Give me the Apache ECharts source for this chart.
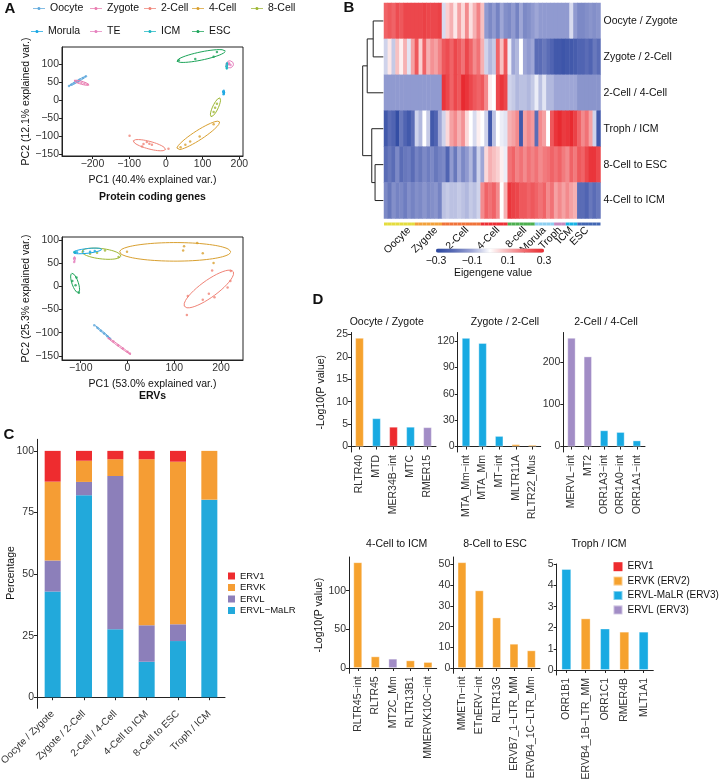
<!DOCTYPE html>
<html>
<head>
<meta charset="utf-8">
<title>ERV expression in early embryos</title>
<script src="https://cdn.jsdelivr.net/npm/echarts@6/dist/echarts.min.js"></script>
<style>
  html, body { margin: 0; padding: 0; background: #fff; }
  #chart { width: 720px; height: 780px; }
</style>
</head>
<body>
<div id="chart"></div>
<script>
// ---------------------------------------------------------------------------
// Panel A: PCA, one ellipse [cx, cy, ux, uy, vx, vy] and some points per stage
// ---------------------------------------------------------------------------
var pcaGroups = ['Oocyte', 'Zygote', '2-Cell', '4-Cell', '8-Cell', 'Morula', 'TE', 'ICM', 'ESC'];
var pcaColors = ['#5ea8dc', '#e97cb0', '#f08377', '#d9a030', '#9db733', '#17a6e3', '#e680be', '#1ab6c2', '#1ca459'];

var protEllipses = [
  [-241, 53, 24, 14, -1.2, 2],
  [-230, 49, 21, -6, 1, 4],
  [-45, -124, 44, -12, 3, 10],
  [88, -97, 58, 38, -7, 11],
  [135, -19, 12, 26, 7, -3],
  [157, 22, 1, 8, 3, 0],
  [174, 100, 10, 0, 0, 10],
  [166, 96, 1, 10, 2, 0],
  [96, 123, 66, 14, -2.5, 11]
];
var protPoints = [
  [[-264, 40], [-257, 44], [-250, 48], [-243, 52], [-235, 57], [-226, 62], [-218, 67]],
  [[-246, 53], [-238, 51], [-230, 49], [-222, 47], [-214, 45]],
  [[-99, -98], [7, -134], [-61, -121], [-52, -115], [-38, -123], [-65, -128], [-45, -120]],
  [[53, -123], [92, -100], [130, -66], [66, -114], [40, -130]],
  [[139, -9], [130, -32], [134, -20]],
  [[157, 17], [157, 25], [158, 21]],
  [[171, 100], [176, 98], [172, 103]],
  [[166, 89], [166, 101], [165, 95]],
  [[35, 111], [80, 115], [130, 121], [139, 134]]
];
var protXTicks = [-200, -100, 0, 100, 200];
var protYTicks = [-150, -100, -50, 0, 50, 100];

var ervEllipses = [
  [-54, -98, 18, -15, 0.8, 1],
  [-19, -128, 26, -19, 0.9, 1.2],
  [174, -6, 52, 38, -10.7, 14.6],
  [102, 74, 119, 0, 0, 20],
  [-56, 70, 42, -5, 1.5, 11],
  [-86, 76, 31, 3.5, -0.5, 5],
  [-114, 57, 1, 7, 2, 0],
  [-113, 73, 3, 1, 0, 2],
  [-112, 7, -7, 21, 6.5, 2]
];
var ervPoints = [
  [[-71, -84], [-64, -90], [-57, -96], [-50, -102], [-43, -108], [-37, -113]],
  [[-40, -112], [-30, -119], [-20, -127], [-10, -134], [0, -141], [5, -145]],
  [[129, -21], [161, -29], [174, -16], [186, -24], [214, -3], [220, 11], [221, 33], [181, 34], [127, -62]],
  [[-1, 74], [119, 77], [121, 86], [149, 93], [161, 71], [184, 50]],
  [[-80, 70], [-48, 77], [-19, 63], [-65, 72]],
  [[-108, 73], [-95, 75], [-80, 74], [-70, 76]],
  [[-114, 52], [-113, 60]],
  [[-113, 73]],
  [[-118, 11], [-109, 19], [-111, 2], [-104, -14]]
];
var ervXTicks = [-100, 0, 100, 200];
var ervYTicks = [-150, -100, -50, 0, 50, 100];

// ---------------------------------------------------------------------------
// Panel B: module eigengenes per sample
// ---------------------------------------------------------------------------
var moduleNames = ['Oocyte / Zygote', 'Zygote / 2-Cell', '2-Cell / 4-Cell', 'Troph / ICM', '8-Cell to ESC', '4-Cell to ICM'];
var stageNames = ['Oocyte', 'Zygote', '2-Cell', '4-Cell', '8-cell', 'Morula', 'Troph', 'ICM', 'ESC'];
var stageSizes = [8, 7, 10, 7, 7, 5, 3, 3, 6];
var stageColors = ['#e4dc3e', '#f2a13b', '#f0733a', '#ec3035', '#4caf4f', '#8dcff0', '#c58ac0', '#17b3e5', '#4267b3'];
var stageLabelCols = [6, 13, 21, 29, 36, 41, 45, 48, 52];
var eigenRows = [
  [0.2, 0.22, 0.2, 0.24, 0.22, 0.25, 0.25, 0.25,  0.25, 0.25, 0.26, 0.25, 0.25, 0.25, 0.26,
   -0.04, 0.06, 0.1, 0.03, 0.12, 0.05, 0.15, 0.04, 0.1, 0.16,  0.08, -0.12, -0.15, -0.12, -0.16, -0.1, -0.14,
   -0.15, -0.12, -0.16, -0.1, -0.15, -0.14, -0.12,  -0.1, -0.12, -0.12, -0.12, -0.12,  -0.12, -0.12, -0.12,
   -0.12, -0.04, -0.12,  -0.15, -0.15, -0.14, -0.13, -0.14, -0.13],
  [-0.05, 0.03, -0.06, 0.08, 0.02, 0.1, -0.03, 0.12,  0.22, 0.06, 0.2, 0.1, 0.14, 0.12, 0.16,
   0.22, 0.24, 0.2, 0.25, 0.22, 0.18, 0.25, 0.2, 0.15, 0.18,  0.1, -0.05, -0.08, -0.06, 0.2, 0.08, 0.22,
   -0.02, -0.1, -0.08, 0.0, -0.1, -0.12, -0.1,  -0.2, -0.2, -0.18, -0.2, -0.22,  -0.25, -0.25, -0.26,
   -0.25, -0.25, -0.24,  -0.22, -0.22, -0.2, -0.22, -0.18, -0.2],
  [-0.12, -0.12, -0.12, -0.12, -0.12, -0.12, -0.12, -0.12,  -0.12, -0.12, -0.12, -0.12, -0.12, -0.12, -0.12,
   0.28, 0.25, 0.2, 0.25, 0.22, 0.3, 0.28, 0.25, 0.22, 0.2,  0.22, 0.15, 0.02, 0.0, 0.25, 0.28, 0.25,
   -0.05, -0.06, -0.08, -0.07, -0.07, -0.08, -0.06,  -0.02, -0.07, -0.03, -0.08, -0.08,  -0.1, -0.1, -0.1,
   -0.1, -0.1, -0.1,  -0.13, -0.13, -0.13, -0.13, -0.13, -0.13],
  [-0.25, -0.2, -0.22, -0.28, -0.18, -0.22, -0.25, -0.2,  -0.05, -0.08, 0.0, -0.06, -0.25, -0.22, -0.1,
   -0.05, 0.05, 0.12, 0.15, 0.1, 0.14, 0.05, 0.0, -0.04, 0.02,  0.0, -0.05, -0.25, -0.07, 0.0, -0.02, -0.03,
   0.1, 0.12, 0.15, -0.25, 0.12, 0.15, 0.13,  -0.2, 0.15, 0.12, 0.0, 0.22,  0.28, 0.3, 0.27,
   0.28, 0.3, 0.26,  0.2, 0.15, 0.18, 0.12, -0.05, -0.25],
  [-0.2, -0.18, -0.2, -0.15, -0.2, -0.18, -0.17, -0.2,  -0.16, -0.18, -0.15, -0.17, -0.15, -0.18, -0.16,
   -0.15, -0.22, -0.12, -0.18, -0.1, -0.15, -0.12, -0.08, -0.15, -0.05,  -0.1, 0.05, 0.1, 0.08, 0.06, 0.02, -0.02,
   0.18, 0.2, 0.16, 0.18, 0.15, 0.18, 0.16,  0.18, 0.15, 0.17, 0.18, 0.2,  0.18, 0.2, 0.17,
   0.15, 0.2, 0.17,  0.22, 0.2, 0.25, 0.28, 0.28, 0.25],
  [-0.15, -0.18, -0.14, -0.16, -0.15, -0.17, -0.14, -0.16,  -0.14, -0.15, -0.13, -0.15, -0.14, -0.13, -0.16,
   -0.07, -0.06, -0.07, -0.07, -0.06, -0.07, -0.08, -0.06, -0.07, -0.05,  0.15, 0.2, 0.18, 0.2, 0.15, 0.0, 0.1,
   0.28, 0.26, 0.25, 0.22, 0.22, 0.2, 0.22,  0.2, 0.18, 0.2, 0.15, 0.18,  0.12, 0.15, 0.12,
   0.15, 0.12, 0.1,  -0.2, -0.2, -0.22, -0.18, -0.2, -0.18]
];
// dendrogram: leaves 0..5 are the rows, merge k becomes node 6 + k
var dendroMerges = [[0, 1, 0.49], [6, 2, 0.78], [4, 5, 0.40], [3, 8, 0.56], [7, 9, 1.0]];
var eigenRange = [-0.3, 0.3];
var eigenTicks = [-0.3, -0.1, 0.1, 0.3];

// ---------------------------------------------------------------------------
// Panel C: ERV family composition (%) per module
// ---------------------------------------------------------------------------
var compCats = ['Oocyte / Zygote', 'Zygote / 2-Cell', '2-Cell / 4-Cell', '4-Cell to ICM', '8-Cell to ESC', 'Troph / ICM'];
var compMaLR = [42.9, 82.0, 27.6, 14.4, 22.8, 80.2];
var compERVL = [12.6, 5.4, 62.2, 14.8, 6.8, 0];
var compERVK = [32.0, 8.6, 6.8, 67.4, 66.0, 19.8];
var compERV1 = [12.5, 4.0, 3.4, 3.4, 4.4, 0];
var compTicks = [0, 25, 50, 75, 100];

// ---------------------------------------------------------------------------
// Panel D: top enriched ERVs per module
// ---------------------------------------------------------------------------
var familyNames = ['ERV1', 'ERVK (ERV2)', 'ERVL-MaLR (ERV3)', 'ERVL (ERV3)'];
var enrichTitles = ['Oocyte / Zygote', 'Zygote / 2-Cell', '2-Cell / 4-Cell', '4-Cell to ICM', '8-Cell to ESC', 'Troph / ICM'];
var enrichNames = [
  ['RLTR40', 'MTD', 'MER34B\u2212int', 'MTC', 'RMER15'],
  ['MTA_Mm\u2212int', 'MTA_Mm', 'MT\u2212int', 'MLTR11A', 'RLTR22_Mus'],
  ['MERVL\u2212int', 'MT2', 'ORR1A3\u2212int', 'ORR1A0\u2212int', 'ORR1A1\u2212int'],
  ['RLTR45\u2212int', 'RLTR45', 'MT2C_Mm', 'RLTR13B1', 'MMERVK10C\u2212int'],
  ['MMETn\u2212int', 'ETnERV\u2212int', 'RLTR13G', 'ERVB7_1\u2212LTR_MM', 'ERVB4_1C\u2212LTR_Mm'],
  ['ORR1B1', 'ERVB4_1B\u2212LTR_MM', 'ORR1C1', 'RMER4B', 'MLT1A1']
];
var enrichValues = [
  [24.2, 6.3, 4.4, 4.4, 4.3],
  [123.5, 117.7, 12.0, 2.6, 1.9],
  [257.6, 213.6, 38.4, 34.4, 14.4],
  [136.8, 15.0, 12.0, 9.8, 7.7],
  [51.1, 37.5, 24.4, 11.7, 8.5],
  [4.78, 2.44, 1.96, 1.81, 1.81]
];
// index into familyNames
var enrichFamily = [
  [1, 2, 0, 2, 3],
  [2, 2, 2, 1, 1],
  [3, 3, 2, 2, 2],
  [1, 1, 3, 1, 1],
  [1, 1, 1, 1, 1],
  [2, 1, 2, 1, 2]
];
var enrichTicks = [[0, 5, 10, 15, 20, 25], [0, 30, 60, 90, 120], [0, 100, 200], [0, 50, 100], [0, 10, 20, 30, 40, 50], [0, 1, 2, 3, 4, 5]];

// ---------------------------------------------------------------------------
var FONT = '"Liberation Sans", Arial, Helvetica, sans-serif';
var INK = '#222';
var familyColors = ['#ed2b2e', '#f6a22e', '#18aae2', '#a28dc6'];
var compColors = { 'ERV1': '#ee2c2f', 'ERVK': '#f59d34', 'ERVL': '#8c7fba', 'ERVL\u2212MaLR': '#22a9db' };
var heatRamp = ['#2a46a0', '#5a6cb6', '#9ea6d6', '#ffffff', '#f6b0b2', '#f06367', '#e82a30'];

function minusSign(v) { return String(v).replace('-', '\u2212'); }

function ellipsePoints(e) {
  var pts = [];
  for (var i = 0; i <= 90; i++) {
    var t = i / 90 * 2 * Math.PI;
    pts.push([e[0] + Math.cos(t) * e[2] + Math.sin(t) * e[4],
              e[1] + Math.cos(t) * e[3] + Math.sin(t) * e[5]]);
  }
  return pts;
}

function valueAxis(grid, min, max, ticks, extra) {
  var a = {
    type: 'value', gridIndex: grid, min: min, max: max,
    splitLine: { show: false },
    axisLine: { show: true, onZero: false, lineStyle: { color: INK, width: 1 } },
    axisTick: { show: true, length: 3, customValues: ticks, lineStyle: { color: INK } },
    axisLabel: { show: true, customValues: ticks, margin: 3, fontSize: 10.5, color: '#333',
                 fontFamily: FONT, formatter: minusSign },
    nameTextStyle: { fontSize: 10.5, color: '#111', fontFamily: FONT }
  };
  for (var k in extra) a[k] = extra[k];
  return a;
}

function hiddenAxis(grid, type, extra) {
  var a = { type: type, gridIndex: grid, show: false, splitLine: { show: false } };
  for (var k in extra) a[k] = extra[k];
  return a;
}

var grids = [], xAxes = [], yAxes = [], series = [], legends = [], texts = [];

function addText(str, x, y, size, bold, rotation) {
  texts.push({ type: 'text', x: x, y: y, rotation: rotation || 0, silent: true,
    style: { text: str, fill: '#111', textAlign: 'center', textVerticalAlign: 'middle',
             font: (bold ? 'bold ' : '') + size + 'px ' + FONT } });
}

// ---- Panel A --------------------------------------------------------------
function addPca(gi, box, xr, yr, xt, yt, xname, yname, ellipses, points) {
  grids.push({ left: box[0], top: box[1], width: box[2], height: box[3], show: true,
               borderColor: INK, borderWidth: 1, backgroundColor: 'transparent', outerBoundsMode: 'none' });
  xAxes.push(valueAxis(gi, xr[0], xr[1], xt, { name: xname, nameLocation: 'middle', nameGap: 19 }));
  yAxes.push(valueAxis(gi, yr[0], yr[1], yt, { name: yname, nameLocation: 'middle', nameGap: 30 }));
  for (var g = 0; g < pcaGroups.length; g++) {
    series.push({ type: 'line', name: pcaGroups[g], xAxisIndex: gi, yAxisIndex: gi,
      data: ellipsePoints(ellipses[g]), showSymbol: false, symbol: 'none', smooth: false,
      color: pcaColors[g], lineStyle: { width: 1, color: pcaColors[g] }, silent: true, animation: false });
    series.push({ type: 'scatter', name: pcaGroups[g], xAxisIndex: gi, yAxisIndex: gi,
      data: points[g], symbolSize: 2.5, itemStyle: { color: pcaColors[g] }, silent: true, animation: false });
  }
}
addPca(0, [62, 47, 181, 109], [-283, 210], [-154, 148], protXTicks, protYTicks,
       'PC1 (40.4% explained var.)', 'PC2 (12.1% explained var.)', protEllipses, protPoints);
addPca(1, [62, 237, 181, 123], [-140, 247], [-159, 106], ervXTicks, ervYTicks,
       'PC1 (53.0% explained var.)', 'PC2 (25.3% explained var.)', ervEllipses, ervPoints);

var pcaLegendSpots = [[33, 3], [90, 3], [144, 3], [192, 3], [251, 3], [31, 26], [90, 26], [144, 26], [192, 26]];
for (var li = 0; li < pcaGroups.length; li++) {
  legends.push({ data: [pcaGroups[li]], left: pcaLegendSpots[li][0], top: pcaLegendSpots[li][1],
    padding: 0, itemWidth: 12, itemHeight: 4, selectedMode: false,
    icon: 'path://M0 3.5H16V4.5H0Z M8 2A2 2 0 1 1 7.99 2Z',
    textStyle: { fontSize: 10.5, color: '#111', fontFamily: FONT } });
}
addText('A', 10, 9, 15, true);
addText('Protein coding genes', 152.5, 197, 10.5, true);
addText('ERVs', 152.5, 396.5, 10.5, true);

// ---- Panel B --------------------------------------------------------------
var sampleIds = [], sampleStage = [];
for (var s = 0; s < stageNames.length; s++)
  for (var r = 0; r < stageSizes[s]; r++) { sampleIds.push(stageNames[s] + ' ' + (r + 1)); sampleStage.push(s); }
var labelAt = {};
stageLabelCols.forEach(function (c, i) { labelAt[c] = stageNames[i]; });

var heatData = [];
eigenRows.forEach(function (row, ri) {
  row.forEach(function (v, ci) { heatData.push([ci, ri, v]); });
});

// grid 2: heatmap
grids.push({ left: 384, top: 3, width: 216.5, height: 215.5, outerBoundsMode: 'none' });
xAxes.push(hiddenAxis(2, 'category', { data: sampleIds }));
yAxes.push({ type: 'category', gridIndex: 2, data: moduleNames, inverse: true, position: 'right',
  axisLine: { show: false }, axisTick: { show: false }, splitLine: { show: false },
  axisLabel: { margin: 3, fontSize: 10.5, color: '#111', fontFamily: FONT } });
var heatSeriesIndex = series.length;
series.push({ type: 'heatmap', xAxisIndex: 2, yAxisIndex: 2, data: heatData, silent: true,
  itemStyle: { borderWidth: 0 }, emphasis: { disabled: true }, animation: false });

// grid 3: stage colour strip with stage labels
grids.push({ left: 384, top: 222.5, width: 216.5, height: 3, outerBoundsMode: 'none' });
xAxes.push({ type: 'category', gridIndex: 3, data: sampleIds,
  axisLine: { show: false }, axisTick: { show: false }, splitLine: { show: false },
  axisLabel: { show: true, rotate: 45, margin: 3, fontSize: 10.5, color: '#111', fontFamily: FONT,
    interval: function (index) { return labelAt[index] !== undefined; },
    formatter: function (value, index) { return labelAt[index] || ''; } } });
yAxes.push(hiddenAxis(3, 'value', { min: 0, max: 1 }));
series.push({ type: 'bar', xAxisIndex: 3, yAxisIndex: 3, barWidth: '100%', silent: true, animation: false,
  data: sampleStage.map(function (st) { return { value: 1, itemStyle: { color: stageColors[st] } }; }) });

// grid 4: dendrogram
grids.push({ left: 360, top: 3, width: 23.3, height: 215.5, outerBoundsMode: 'none' });
xAxes.push(hiddenAxis(4, 'value', { min: 0, max: 1.13, inverse: true }));
yAxes.push(hiddenAxis(4, 'value', { min: 0, max: moduleNames.length, inverse: true }));
var dNodes = moduleNames.map(function (n, i) { return { y: i + 0.5, h: 0 }; });
dendroMerges.forEach(function (m) {
  var a = dNodes[m[0]], b = dNodes[m[1]];
  series.push({ type: 'line', xAxisIndex: 4, yAxisIndex: 4, showSymbol: false, symbol: 'none',
    silent: true, animation: false, lineStyle: { color: INK, width: 1 },
    data: [[a.h, a.y], [m[2], a.y], [m[2], b.y], [b.h, b.y]] });
  dNodes.push({ y: (a.y + b.y) / 2, h: m[2] });
});

// grid 5: colour bar axis
grids.push({ left: 436, top: 249, width: 108, height: 4, outerBoundsMode: 'none' });
xAxes.push({ type: 'value', gridIndex: 5, min: eigenRange[0], max: eigenRange[1],
  axisLine: { show: false }, splitLine: { show: false },
  axisTick: { show: true, inside: true, length: 2, customValues: [-0.3, -0.2, -0.1, 0, 0.1, 0.2, 0.3],
              lineStyle: { color: '#fff', width: 0.6 } },
  axisLabel: { customValues: eigenTicks, margin: 3, fontSize: 10.5, color: '#111', fontFamily: FONT,
               formatter: minusSign } });
yAxes.push(hiddenAxis(5, 'value', { min: 0, max: 1 }));
addText('B', 349, 8, 15, true);
addText('Eigengene value', 493, 273, 10.5, false);

// ---- Panel C --------------------------------------------------------------
grids.push({ left: 37, top: 439.3, width: 188, height: 269, outerBoundsMode: 'none' });
xAxes.push({ type: 'category', gridIndex: 6, data: compCats,
  axisLine: { show: true, lineStyle: { color: INK } }, splitLine: { show: false },
  axisTick: { show: true, alignWithLabel: true, length: 3, lineStyle: { color: INK } },
  axisLabel: { interval: 0, rotate: 45, margin: 4, fontSize: 10, color: '#333', fontFamily: FONT } });
yAxes.push(valueAxis(6, -4.5, 104.7, compTicks, {}));
[['ERVL\u2212MaLR', compMaLR], ['ERVL', compERVL], ['ERVK', compERVK], ['ERV1', compERV1]].forEach(function (p) {
  series.push({ type: 'bar', name: p[0], xAxisIndex: 6, yAxisIndex: 6, stack: 'comp', barWidth: 16,
    data: p[1], itemStyle: { color: compColors[p[0]] }, silent: true, animation: false });
});
legends.push({ data: ['ERV1', 'ERVK', 'ERVL', 'ERVL\u2212MaLR'], orient: 'vertical', left: 228, top: 570.5,
  padding: 0, itemGap: 0.5, itemWidth: 7, itemHeight: 7, icon: 'rect', selectedMode: false,
  textStyle: { fontSize: 9.5, lineHeight: 11, color: '#111', fontFamily: FONT } });
addText('C', 9, 435, 15, true);
addText('Percentage', 11.5, 573, 10.5, false, Math.PI / 2);

// ---- Panel D --------------------------------------------------------------
var dBoxes = [
  [351, 332.5, 85, 119.5], [457.7, 332.5, 83, 119.5], [563.3, 332.5, 81.7, 119.5],
  [349, 557, 87.7, 116.3], [453.3, 557, 86.7, 116.3], [556.7, 564, 96.6, 111]
];
var dTitlePos = [[386.7, 321.7], [505, 321.7], [606, 321.7], [396.7, 544.3], [495, 544.3], [599, 544.3]];
for (var d = 0; d < enrichValues.length; d++) {
  var gi = 7 + d, b = dBoxes[d];
  var vmax = Math.max.apply(null, enrichValues[d]);
  grids.push({ left: b[0], top: b[1], width: b[2], height: b[3], outerBoundsMode: 'none' });
  xAxes.push({ type: 'category', gridIndex: gi, data: enrichNames[d],
    axisLine: { show: true, lineStyle: { color: INK } }, splitLine: { show: false },
    axisTick: { show: true, alignWithLabel: true, length: 3, lineStyle: { color: INK } },
    axisLabel: { interval: 0, rotate: 90, margin: 3, fontSize: 10.5, color: '#333', fontFamily: FONT } });
  var yExtra = (d === 0 || d === 3) ? { name: '-Log10(P value)', nameLocation: 'middle', nameGap: 24 } : {};
  yAxes.push(valueAxis(gi, -0.05 * vmax, 1.05 * vmax, enrichTicks[d], yExtra));
  for (var f = 0; f < familyNames.length; f++) {
    series.push({ type: 'bar', name: familyNames[f], xAxisIndex: gi, yAxisIndex: gi, stack: 'enrich' + d,
      barWidth: '50%', silent: true, animation: false,
      itemStyle: { color: familyColors[f], borderColor: 'rgba(255,255,255,0.45)', borderWidth: 0.8 },
      data: enrichValues[d].map(function (v, i) { return enrichFamily[d][i] === f ? v : '-'; }) });
  }
  addText(enrichTitles[d], dTitlePos[d][0], dTitlePos[d][1], 10.5, false);
}
legends.push({ data: familyNames, orient: 'vertical', left: 612.5, top: 560.7, padding: 0,
  itemGap: 2.4, itemWidth: 9, itemHeight: 9, icon: 'rect', selectedMode: false,
  textStyle: { fontSize: 10, lineHeight: 12, color: '#111', fontFamily: FONT } });
addText('D', 318, 300, 15, true);

var chart = echarts.init(document.getElementById('chart'));
chart.setOption({
  animation: false,
  backgroundColor: '#fff',
  textStyle: { fontFamily: FONT },
  grid: grids,
  xAxis: xAxes,
  yAxis: yAxes,
  legend: legends,
  tooltip: { show: false },
  visualMap: [{
    type: 'continuous', seriesIndex: heatSeriesIndex, min: eigenRange[0], max: eigenRange[1],
    orient: 'horizontal', left: 436, top: 248.5, itemWidth: 4.3, itemHeight: 108, padding: 0,
    calculable: false, hoverLink: false, text: null, inRange: { color: heatRamp }
  }],
  graphic: texts,
  series: series
});
</script>
</body>
</html>
